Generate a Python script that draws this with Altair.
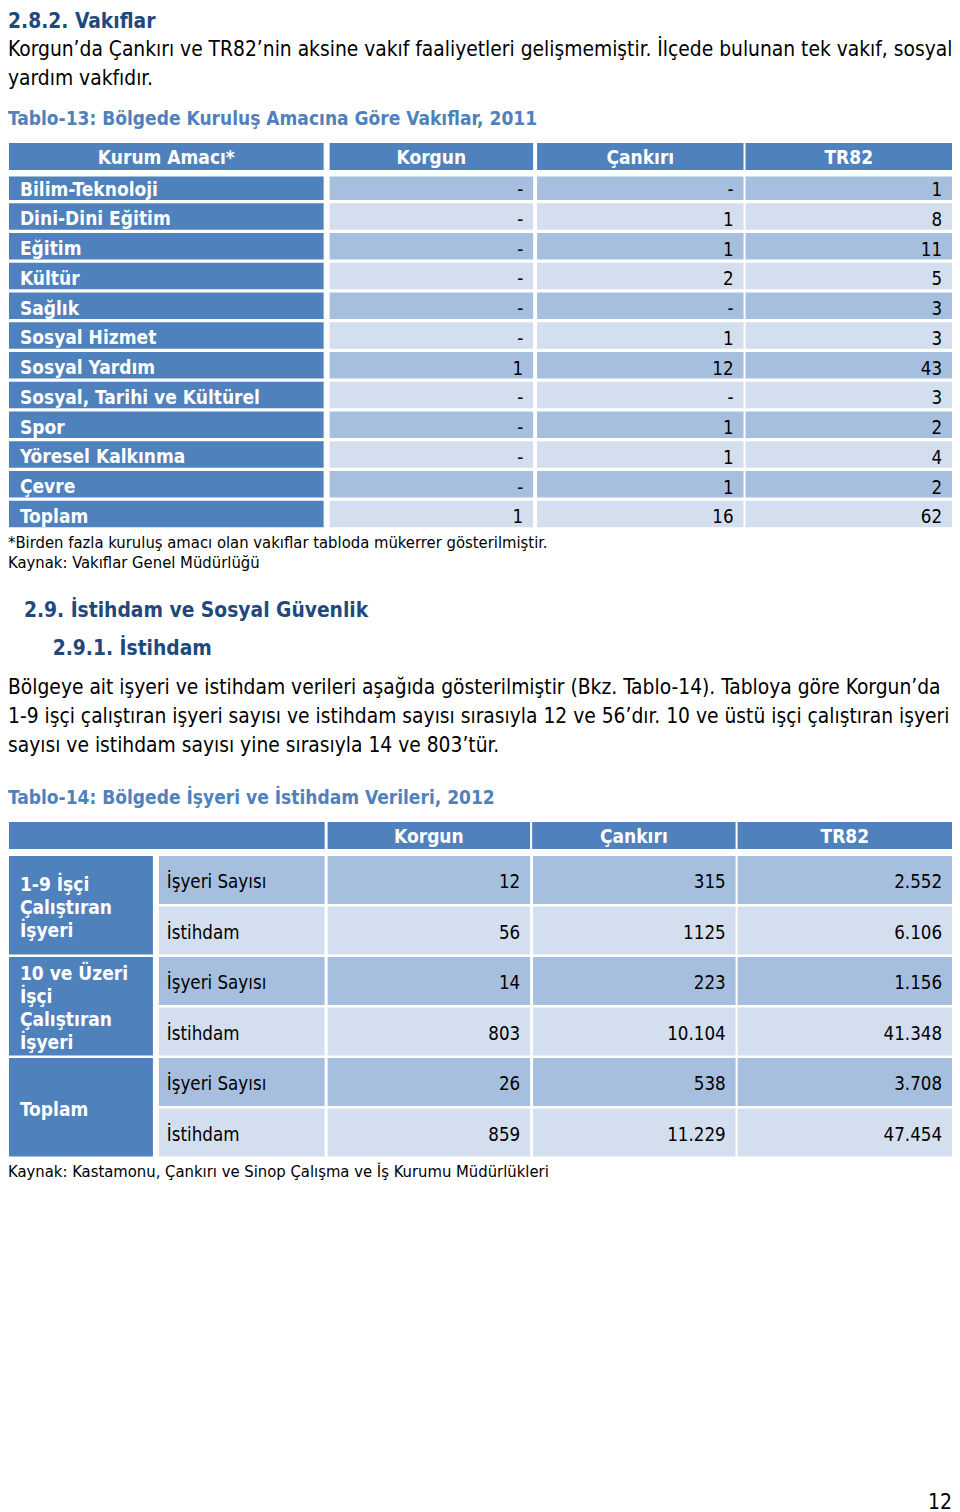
import altair as alt
import pandas as pd

FONT = "DejaVu Sans Condensed, DejaVu Sans"

# ---------------- data ----------------
heading_1 = "2.8.2. Vakıflar"
para_1 = [
    "Korgun’da Çankırı ve TR82’nin aksine vakıf faaliyetleri gelişmemiştir. İlçede bulunan tek vakıf, sosyal",
    "yardım vakfıdır.",
]
t13_title = "Tablo-13: Bölgede Kuruluş Amacına Göre Vakıflar, 2011"
t13_header = ["Kurum Amacı*", "Korgun", "Çankırı", "TR82"]
t13_categories = [
    "Bilim-Teknoloji", "Dini-Dini Eğitim", "Eğitim", "Kültür", "Sağlık",
    "Sosyal Hizmet", "Sosyal Yardım", "Sosyal, Tarihi ve Kültürel", "Spor",
    "Yöresel Kalkınma", "Çevre", "Toplam",
]
t13_korgun = ["-", "-", "-", "-", "-", "-", "1", "-", "-", "-", "-", "1"]
t13_cankiri = ["-", "1", "1", "2", "-", "1", "12", "-", "1", "1", "1", "16"]
t13_tr82 = ["1", "8", "11", "5", "3", "3", "43", "3", "2", "4", "2", "62"]
t13_notes = [
    "*Birden fazla kuruluş amacı olan vakıflar tabloda mükerrer gösterilmiştir.",
    "Kaynak: Vakıflar Genel Müdürlüğü",
]
heading_2 = "2.9. İstihdam ve Sosyal Güvenlik"
heading_3 = "2.9.1. İstihdam"
para_2 = [
    "Bölgeye ait işyeri ve istihdam verileri aşağıda gösterilmiştir (Bkz. Tablo-14).  Tabloya göre Korgun’da",
    "1-9 işçi çalıştıran işyeri sayısı ve istihdam sayısı sırasıyla 12 ve 56’dır. 10 ve üstü işçi çalıştıran işyeri",
    "sayısı ve istihdam sayısı yine sırasıyla 14 ve 803’tür.",
]
t14_title = "Tablo-14: Bölgede İşyeri ve İstihdam Verileri, 2012"
t14_header = ["", "Korgun", "Çankırı", "TR82"]
t14_groups = ["1-9 İşçi\nÇalıştıran\nİşyeri", "10 ve Üzeri\nİşçi\nÇalıştıran\nİşyeri", "Toplam"]
t14_rows = ["İşyeri Sayısı", "İstihdam", "İşyeri Sayısı", "İstihdam", "İşyeri Sayısı", "İstihdam"]
t14_korgun = ["12", "56", "14", "803", "26", "859"]
t14_cankiri = ["315", "1125", "223", "10.104", "538", "11.229"]
t14_tr82 = ["2.552", "6.106", "1.156", "41.348", "3.708", "47.454"]
t14_source = "Kaynak: Kastamonu, Çankırı ve Sinop Çalışma ve İş Kurumu Müdürlükleri"
page_number = "12"

# ---------------- styles / layout ----------------
C_HEAD = "#4F81BD"
C_DARK = "#A7BFDE"
C_LIGHT = "#D3DFEE"
C_NAVY = "#1F497D"
C_TITLE = "#4F81BD"
BLACK = "#000000"
WHITE = "#FFFFFF"

W, H = 944, 1504
XD = [4, 955]          # page x range that is drawn
YD = [8, 8 + H]        # page y range that is drawn
DY = 1.5               # optical shift of text centres

rects = []
texts = []


def rect(x, x2, y, y2, fill):
    rects.append(dict(x=x, x2=x2, y=y, y2=y2, fill=fill))


def txt(x, y, s, size, color, align="left", weight="normal"):
    texts.append(dict(x=x, y=y + DY, text=s, size=size, color=color, align=align, weight=weight))


BODY = 20.8
TABB = 19
TABN = 18.6
NOTE = 16.5
HEAD = 20.8
TITLE = 19.0
LH = 23

# headings and paragraph 1
txt(4, 20, heading_1, HEAD, C_NAVY, weight="bold")
for i, line in enumerate(para_1):
    txt(4, 48, line, BODY, BLACK) if i == 0 else txt(4, 48 + i * 29, line, BODY, BLACK)
txt(4, 117, t13_title, TITLE, C_TITLE, weight="bold")

# table 13
t13_cols = [(5, 322), (328, 533), (537, 745), (747, 955)]
for (a, b), h in zip(t13_cols, t13_header):
    rect(a, b, 143, 170, C_HEAD)
    txt((a + b) / 2, 156, h, TABB, WHITE, "center", "bold")
t13_values = [t13_korgun, t13_cankiri, t13_tr82]
for i, cat in enumerate(t13_categories):
    top = 173.5 + i * 29.75
    if i == 0:
        top = 176.5
    bot = 173.5 + i * 29.75 + 26.5
    cy = 173.5 + i * 29.75 + 14.5
    fill = C_DARK if i % 2 == 0 else C_LIGHT
    rect(t13_cols[0][0], t13_cols[0][1], top, bot, C_HEAD)
    txt(16, cy, cat, TABB, WHITE, "left", "bold")
    for (a, b), vals in zip(t13_cols[1:], t13_values):
        rect(a, b, top, bot, fill)
        txt(b - 10, cy + 0.5, vals[i], TABN, BLACK, "right")
for i, line in enumerate(t13_notes):
    txt(4, 541 + i * 20, line, NOTE, BLACK)

# headings and paragraph 2
txt(20, 609, heading_2, HEAD, C_NAVY, weight="bold")
txt(49, 647, heading_3, HEAD, C_NAVY, weight="bold")
for i, line in enumerate(para_2):
    txt(4, 686 + i * 29, line, BODY, BLACK)
txt(4, 796, t14_title, TITLE, C_TITLE, weight="bold")

# table 14
t14_head_cols = [(5, 323), (326, 530), (532, 737), (739, 955)]
for (a, b), h in zip(t14_head_cols, t14_header):
    rect(a, b, 822, 849, C_HEAD)
    if h:
        txt((a + b) / 2, 835, h, TABB, WHITE, "center", "bold")
grp_col = (5, 150)
sub_col = (156, 323)
val_cols = [(326, 530), (533, 737), (739, 955)]
t14_values = [t14_korgun, t14_cankiri, t14_tr82]
ROW0, PITCH, RH = 856, 50.5, 48
for g, label in enumerate(t14_groups):
    top = ROW0 + 2 * g * PITCH
    bot = top + PITCH + RH
    rect(grp_col[0], grp_col[1], top, bot, C_HEAD)
    n = label.count("\n") + 1
    txt(16, (top + bot) / 2 + 1 - (n - 1) * LH / 2, label, TABB, WHITE, "left", "bold")
for i, name in enumerate(t14_rows):
    top = ROW0 + i * PITCH
    bot = top + RH
    cy = top + RH / 2 + 0.5
    fill = C_DARK if i % 2 == 0 else C_LIGHT
    rect(sub_col[0], sub_col[1], top, bot, fill)
    txt(164, cy, name, TABN, BLACK)
    for (a, b), vals in zip(val_cols, t14_values):
        rect(a, b, top, bot, fill)
        txt(b - 10, cy, vals[i], TABN, BLACK, "right")
txt(4, 1170, t14_source, NOTE, BLACK)

txt(955, 1501, page_number, 21, BLACK, "right")

# ---------------- chart ----------------
xs = alt.Scale(domain=XD, nice=False, zero=False)
ys = alt.Scale(domain=YD, nice=False, zero=False, reverse=True)

rdf = pd.DataFrame(rects)
tdf = pd.DataFrame(texts)

base_rect = alt.Chart(rdf).mark_rect().encode(
    x=alt.X("x:Q", scale=xs, axis=None),
    x2="x2:Q",
    y=alt.Y("y:Q", scale=ys, axis=None),
    y2="y2:Q",
    fill=alt.Fill("fill:N", scale=None),
)

layers = [base_rect]
for (align, weight), sub in tdf.groupby(["align", "weight"]):
    layers.append(
        alt.Chart(sub).mark_text(
            align=align, baseline="middle", font=FONT, fontWeight=weight,
            lineBreak="\n", lineHeight=LH,
        ).encode(
            x=alt.X("x:Q", scale=xs, axis=None),
            y=alt.Y("y:Q", scale=ys, axis=None),
            text="text:N",
            size=alt.Size("size:Q", scale=None),
            color=alt.Color("color:N", scale=None),
        )
    )

chart = alt.layer(*layers).properties(
    width=W, height=H, autosize="none", padding=0, background="white"
).configure_view(stroke=None)

chart.save("out.html", embed_options={"renderer": "svg", "actions": False})
